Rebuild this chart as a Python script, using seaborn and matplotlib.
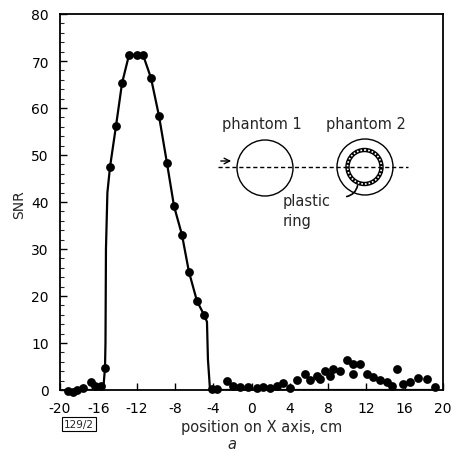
import matplotlib
matplotlib.use("Agg")
import matplotlib.pyplot as plt
import seaborn as sns
import numpy as np
import pandas as pd
from matplotlib.patches import Circle, FancyArrowPatch

# ---- data ----
point_x = [-19.16, -18.64, -18.22, -17.60, -16.76, -16.34, -15.72, -15.30,
           -14.78, -14.15, -13.52, -12.79, -11.96, -11.33, -10.50, -9.66, -8.83,
           -8.09, -7.26, -6.53, -5.69, -4.96,
           -4.13, -3.60, -2.56, -1.93, -1.20, -0.37, 0.57, 1.20, 1.93, 2.66,
           3.29, 4.02, 4.75, 5.59, 6.11, 6.84, 7.15, 7.68, 8.20, 8.51, 9.24,
           9.97, 10.60, 11.33, 10.60, 12.06, 12.69, 13.42, 14.15, 14.67, 15.20,
           15.82, 16.55, 17.39, 18.33, 19.16]
point_snr = [-0.2, -0.4, 0.0, 0.4, 1.7, 0.9, 0.9, 4.7,
             47.4, 56.2, 65.3, 71.3, 71.3, 71.3, 66.4, 58.3, 48.3,
             39.1, 33.0, 25.1, 18.9, 16.0,
             0.2, 0.2, 1.9, 0.9, 0.6, 0.6, 0.4, 0.6, 0.4, 0.9,
             1.5, 0.4, 2.1, 3.4, 2.1, 3.0, 2.3, 4.0, 3.0, 4.5, 4.0,
             6.4, 5.5, 5.5, 3.4, 3.4, 2.8, 2.1, 1.7, 0.9, 4.5,
             1.3, 1.7, 2.6, 2.3, 0.6]

curve_x = [-19.5, -15.6, -15.45, -15.3, -15.25, -15.2, -15.05, -14.78, -14.15,
           -13.52, -12.79, -11.96, -11.33, -10.50, -9.66, -8.83, -8.09, -7.26,
           -6.53, -5.69, -4.96, -4.65, -4.55, -4.33, 19.5]
curve_snr = [0.0, 0.0, 1.0, 4.7, 10.0, 30.0, 42.0, 47.4, 56.2,
             65.3, 71.3, 71.3, 71.3, 66.4, 58.3, 48.3, 39.1, 33.0,
             25.1, 18.9, 16.0, 14.5, 6.5, 0.0, 0.0]

x_ticks = [-20, -16, -12, -8, -4, 0, 4, 8, 12, 16, 20]
y_ticks = [0, 10, 20, 30, 40, 50, 60, 70, 80]

points = pd.DataFrame({"x": point_x, "snr": point_snr})
curve = pd.DataFrame({"x": curve_x, "snr": curve_snr})

sns.set_style("ticks")
plt.rcParams["font.family"] = ["DejaVu Sans"]
plt.rcParams["axes.unicode_minus"] = False

W, H = 454, 452
fig = plt.figure(figsize=(W/100, H/100), dpi=100)
L, R, T, B = 60, 443, 15, 391
ax = fig.add_axes([L/W, 1-B/H, (R-L)/W, (B-T)/H])

sns.lineplot(data=curve, x="x", y="snr", ax=ax, color="black", lw=1.6,
             sort=False, estimator=None)
sns.scatterplot(data=points, x="x", y="snr", ax=ax, color="black", s=40,
                edgecolor="black", linewidth=0, zorder=3, clip_on=False)

ax.set_xlim(-20, 20)
ax.set_ylim(0, 80)
ax.set_xticks(x_ticks)
ax.set_xticklabels([str(t) for t in x_ticks])
ax.set_yticks(y_ticks)
ax.set_yticks(np.arange(0, 81, 2), minor=True)
ax.tick_params(axis="both", direction="in", labelsize=10, color="black",
               labelcolor="black", length=5, width=1)
ax.tick_params(axis="y", which="minor", direction="in", length=3, width=0.8)
ax.tick_params(axis="x", pad=8)
ax.tick_params(axis="y", pad=8)
for s in ax.spines.values():
    s.set_visible(True)
    s.set_color("black")
    s.set_linewidth(1.3)
ax.set_xlabel("")
ax.set_ylabel("")

# labels as figure text
fig.text(19/W, 1-205/H, "SNR", rotation=90, ha="center", va="center", fontsize=10)
fig.text(262/W, 1-428/H, "position on X axis, cm", ha="center", va="center", fontsize=10.5)
fig.text(232/W, 1-445/H, "a", ha="center", va="center", fontsize=10.5, style="italic")
fig.text(79/W, 1-425/H, "129/2", ha="center", va="center", fontsize=7.5,
         bbox=dict(boxstyle="square,pad=0.2", fc="white", ec="black", lw=0.8))

# inset schematic in figure pixel coordinates
ov = fig.add_axes([0, 0, 1, 1], facecolor="none")
ov.set_xlim(0, W)
ov.set_ylim(H, 0)
ov.axis("off")
ov.add_patch(Circle((265, 169), 28, fill=False, ec="black", lw=1.0))
ov.add_patch(Circle((365, 168), 28, fill=False, ec="black", lw=1.0))
ov.add_patch(Circle((364.5, 168), 17, fill=False, ec="black", lw=3.2))
ov.add_patch(Circle((364.5, 168), 17, fill=False, ec="white", lw=1.2, ls=(0, (1, 1.2))))
ov.plot([218, 408], [168, 168], color="black", lw=1.0, ls=(0, (3, 2)))
ov.annotate("", xy=(234, 162), xytext=(218, 162),
            arrowprops=dict(arrowstyle="->", color="black", lw=1.0))
ov.text(262, 125, "phantom 1", ha="center", va="center", fontsize=10.5)
ov.text(366, 125, "phantom 2", ha="center", va="center", fontsize=10.5)
ov.text(283, 202, "plastic", ha="left", va="center", fontsize=10.5)
ov.text(283, 222, "ring", ha="left", va="center", fontsize=10.5)
ov.add_patch(FancyArrowPatch((358, 184), (344, 198), connectionstyle="arc3,rad=-0.4",
                             arrowstyle="-", color="black", lw=1.2))

fig.savefig("out.png", dpi=100, facecolor="white")
